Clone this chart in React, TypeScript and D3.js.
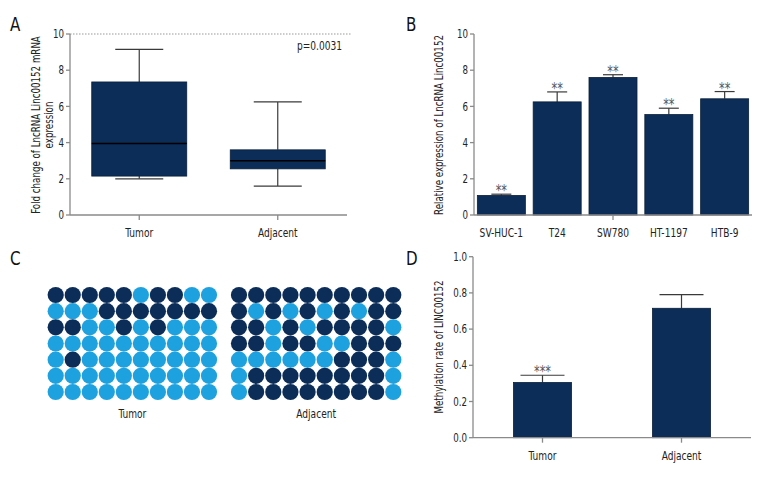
import React from "react";
import * as d3 from "d3";

const boxCats = ["Tumor", "Adjacent"];
const boxMin = [2.0, 1.6];
const boxQ1 = [2.15, 2.55];
const boxMed = [3.95, 3.0];
const boxQ3 = [7.35, 3.6];
const boxMax = [9.15, 6.25];
const yTicksA = [0, 2, 4, 6, 8, 10];

const cellLines = ["SV-HUC-1", "T24", "SW780", "HT-1197", "HTB-9"];
const cellMeans = [1.08, 6.25, 7.6, 5.55, 6.42];
const cellErr = [0.07, 0.55, 0.15, 0.35, 0.4];
const cellSig = ["**", "**", "**", "**", "**"];
const yTicksB = [0, 2, 4, 6, 8, 10];

const methCats = ["Tumor", "Adjacent"];
const methMeans = [0.305, 0.715];
const methErr = [0.04, 0.075];
const methSig = ["***", ""];
const yTicksD = [0, 0.2, 0.4, 0.6, 0.8, 1.0];

// 1 = methylated (dark), 0 = unmethylated (light)
const tumorDots = [
  [1, 1, 1, 1, 1, 0, 1, 1, 0, 0],
  [0, 0, 0, 1, 1, 1, 1, 1, 1, 1],
  [1, 1, 0, 0, 1, 0, 1, 0, 0, 0],
  [0, 0, 0, 0, 0, 0, 0, 0, 0, 0],
  [0, 1, 0, 0, 0, 0, 0, 0, 0, 0],
  [0, 0, 0, 0, 0, 0, 0, 0, 0, 0],
  [0, 0, 0, 0, 0, 0, 0, 0, 0, 0],
];
const adjacentDots = [
  [1, 1, 1, 1, 1, 1, 1, 1, 1, 1],
  [1, 0, 1, 0, 1, 0, 1, 0, 1, 1],
  [1, 1, 0, 1, 0, 1, 1, 1, 1, 0],
  [1, 1, 0, 1, 1, 0, 0, 1, 1, 1],
  [0, 0, 0, 0, 0, 0, 1, 1, 1, 0],
  [0, 1, 1, 1, 1, 1, 1, 1, 1, 0],
  [0, 1, 1, 1, 1, 1, 1, 1, 1, 0],
];

const NAVY = "#0b2d58";
const LIGHT = "#1ea1df";
const AXIS = "#8a8a8a";
const ERR = "#3a3a3a";
const FONT = "'DejaVu Sans Condensed', 'DejaVu Sans', sans-serif";
const SQ = 0.84;

function Txt({ x, y, anchor = "start", size = 12, rotate = 0, fill = "#222", dy, children }: any) {
  return (
    <text
      transform={`translate(${x},${y}) rotate(${rotate}) scale(${SQ},1)`}
      textAnchor={anchor}
      fontSize={size}
      fill={fill}
      dy={dy}
    >
      {children}
    </text>
  );
}

function YAxis({ scale, x, ticks, fmt }: any) {
  const [r0, r1] = scale.range();
  return (
    <g>
      <line x1={x} x2={x} y1={r0} y2={r1} stroke={AXIS} strokeWidth={1.3} />
      {ticks.map((t: number) => (
        <g key={t}>
          <line x1={x - 4} x2={x} y1={scale(t)} y2={scale(t)} stroke={AXIS} strokeWidth={1.3} />
          <Txt x={x - 6} y={scale(t)} dy="0.36em" anchor="end" size={11.5}>
            {fmt(t)}
          </Txt>
        </g>
      ))}
    </g>
  );
}

function XAxis({ x0, x1, y, ticks, labels }: any) {
  return (
    <g>
      <line x1={x0} x2={x1} y1={y} y2={y} stroke={AXIS} strokeWidth={1.3} />
      {ticks.map((t: number, i: number) => (
        <line key={i} x1={t} x2={t} y1={y} y2={y + 5} stroke={AXIS} strokeWidth={1.3} />
      ))}
      {labels.map((l: any, i: number) => (
        <Txt key={i} x={l.x} y={y + 22} anchor="middle" size={12}>
          {l.text}
        </Txt>
      ))}
    </g>
  );
}

function PanelA() {
  const y = d3.scaleLinear().domain([0, 10]).range([215, 34]);
  const x = d3.scalePoint<string>().domain(boxCats).range([70, 347]).padding(0.5);
  const boxW = 95;
  const capW = 48;
  return (
    <g>
      <Txt x={10} y={31} size={20} fill="#111">A</Txt>
      <line x1={70} x2={352} y1={y(10)} y2={y(10)} stroke="#999" strokeWidth={1.2} strokeDasharray="1.5,1.5" />
      {boxCats.map((c, i) => {
        const cx = x(c)!;
        return (
          <g key={c}>
            <line x1={cx} x2={cx} y1={y(boxMax[i])} y2={y(boxQ3[i])} stroke={ERR} strokeWidth={1.2} />
            <line x1={cx} x2={cx} y1={y(boxQ1[i])} y2={y(boxMin[i])} stroke={ERR} strokeWidth={1.2} />
            <line x1={cx - capW / 2} x2={cx + capW / 2} y1={y(boxMax[i])} y2={y(boxMax[i])} stroke={ERR} strokeWidth={1.2} />
            <line x1={cx - capW / 2} x2={cx + capW / 2} y1={y(boxMin[i])} y2={y(boxMin[i])} stroke={ERR} strokeWidth={1.2} />
            <rect x={cx - boxW / 2} y={y(boxQ3[i])} width={boxW} height={y(boxQ1[i]) - y(boxQ3[i])} fill={NAVY} stroke="#0a1f3a" strokeWidth={0.8} />
            <line x1={cx - boxW / 2} x2={cx + boxW / 2} y1={y(boxMed[i])} y2={y(boxMed[i])} stroke="#000" strokeWidth={1.4} />
          </g>
        );
      })}
      <YAxis scale={y} x={70} ticks={yTicksA} fmt={(t: number) => String(t)} />
      <XAxis x0={70} x1={347} y={215} ticks={boxCats.map((c) => x(c))} labels={boxCats.map((c) => ({ x: x(c), text: c }))} />
      <Txt x={342} y={50} anchor="end" size={12}>p=0.0031</Txt>
      <Txt x={40} y={125} rotate={-90} anchor="middle" size={11.5}>
        Fold change of LncRNA Linc00152 mRNA
      </Txt>
      <Txt x={53} y={125} rotate={-90} anchor="middle" size={11.5}>
        expression
      </Txt>
    </g>
  );
}

function PanelB() {
  const y = d3.scaleLinear().domain([0, 10]).range([215, 34]);
  const x = d3.scaleBand<string>().domain(cellLines).range([474, 752]).paddingInner(0.14).paddingOuter(0.06);
  const capHalf = 10;
  return (
    <g>
      <Txt x={406} y={31} size={20} fill="#111">B</Txt>
      {cellLines.map((c, i) => {
        const cx = x(c)! + x.bandwidth() / 2;
        const top = y(cellMeans[i] + cellErr[i]);
        return (
          <g key={c}>
            <line x1={cx} x2={cx} y1={y(cellMeans[i])} y2={top} stroke={ERR} strokeWidth={1.2} />
            <line x1={cx - capHalf} x2={cx + capHalf} y1={top} y2={top} stroke={ERR} strokeWidth={1.2} />
            <rect x={x(c)} y={y(cellMeans[i])} width={x.bandwidth()} height={y(0) - y(cellMeans[i])} fill={NAVY} stroke="#0a1f3a" strokeWidth={0.8} />
            <Txt x={cx} y={top + 2} anchor="middle" size={15} fill="#555">{cellSig[i]}</Txt>
          </g>
        );
      })}
      <YAxis scale={y} x={474} ticks={yTicksB} fmt={(t: number) => String(t)} />
      <XAxis
        x0={474}
        x1={752}
        y={215}
        ticks={[x("SW780")! + x.bandwidth() / 2]}
        labels={cellLines.map((c) => ({ x: x(c)! + x.bandwidth() / 2, text: c }))}
      />
      <Txt x={443} y={125} rotate={-90} anchor="middle" size={11.5}>
        Relative expression of LncRNA Linc00152
      </Txt>
    </g>
  );
}

function DotGrid({ data, x0, x1, label }: any) {
  const cx = d3.scaleLinear().domain([0, 9]).range([x0, x1]);
  const cy = d3.scaleLinear().domain([0, 6]).range([295, 392]);
  return (
    <g>
      {data.map((row: number[], r: number) =>
        row.map((v: number, c: number) => (
          <circle key={`${r}-${c}`} cx={cx(c)} cy={cy(r)} r={8.1} fill={v ? NAVY : LIGHT} />
        ))
      )}
      <Txt x={(x0 + x1) / 2} y={418} anchor="middle" size={12}>{label}</Txt>
    </g>
  );
}

function PanelC() {
  return (
    <g>
      <Txt x={10} y={265} size={20} fill="#111">C</Txt>
      <DotGrid data={tumorDots} x0={55.7} x1={209} label="Tumor" />
      <DotGrid data={adjacentDots} x0={239} x1={393.3} label="Adjacent" />
    </g>
  );
}

function PanelD() {
  const y = d3.scaleLinear().domain([0, 1]).range([437.7, 256.7]);
  const x = d3.scalePoint<string>().domain(methCats).range([473, 751]).padding(0.5);
  const barW = 58;
  const capHalf = 22;
  return (
    <g>
      <Txt x={406} y={265} size={20} fill="#111">D</Txt>
      {methCats.map((c, i) => {
        const cx = x(c)!;
        const top = y(methMeans[i] + methErr[i]);
        return (
          <g key={c}>
            <line x1={cx} x2={cx} y1={y(methMeans[i])} y2={top} stroke={ERR} strokeWidth={1.2} />
            <line x1={cx - capHalf} x2={cx + capHalf} y1={top} y2={top} stroke={ERR} strokeWidth={1.2} />
            <rect x={cx - barW / 2} y={y(methMeans[i])} width={barW} height={y(0) - y(methMeans[i])} fill={NAVY} stroke="#0a1f3a" strokeWidth={0.8} />
            <Txt x={cx} y={top + 2} anchor="middle" size={15} fill="#555">{methSig[i]}</Txt>
          </g>
        );
      })}
      <YAxis scale={y} x={473} ticks={yTicksD} fmt={(t: number) => t.toFixed(1)} />
      <XAxis x0={473} x1={751} y={437.7} ticks={methCats.map((c) => x(c))} labels={methCats.map((c) => ({ x: x(c), text: c }))} />
      <Txt x={443} y={347} rotate={-90} anchor="middle" size={11.5}>
        Methylation rate of LINC00152
      </Txt>
    </g>
  );
}

export default function App() {
  return (
    <svg
      width={780}
      height={492}
      style={{ position: "absolute", left: 0, top: 0, background: "#fff", fontFamily: FONT }}
    >
      <rect width={780} height={492} fill="#fff" />
      <PanelA />
      <PanelB />
      <PanelC />
      <PanelD />
    </svg>
  );
}
